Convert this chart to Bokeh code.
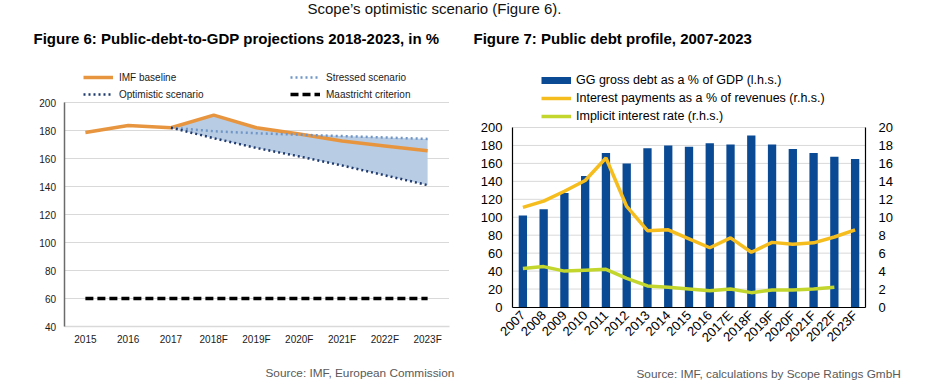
import math
from bokeh.plotting import figure
from bokeh.models import (Range1d, LinearAxis, Legend, LegendItem, Label, FixedTicker)
from bokeh.embed import file_html
from bokeh.resources import INLINE

FONT = "Liberation Sans"

# ---------------- Figure 6 data ----------------
f6_years = ["2015", "2016", "2017", "2018F", "2019F", "2020F", "2021F", "2022F", "2023F"]
imf_baseline = [178.5, 183.5, 182.0, 191.0, 182.0, 177.5, 172.5, 169.0, 165.5]
scen_years = ["2017", "2018F", "2019F", "2020F", "2021F", "2022F", "2023F"]
stressed = [182.0, 179.5, 178.0, 177.0, 176.0, 175.0, 174.0]
optimistic = [182.0, 174.5, 167.5, 161.5, 155.0, 148.0, 141.0]
maastricht = [60, 60, 60, 60, 60, 60, 60, 60, 60]
f6_ticks = [40, 60, 80, 100, 120, 140, 160, 180, 200]

# ---------------- Figure 7 data ----------------
f7_years = ["2007", "2008", "2009", "2010", "2011", "2012", "2013", "2014", "2015",
            "2016", "2017E", "2018F", "2019F", "2020F", "2021F", "2022F", "2023F"]
gg_debt = [102, 109, 127, 146, 171.5, 160, 177, 180, 178.5, 182.5, 181, 191, 181, 176,
           171.5, 167.5, 165]
interest_pay = [11.1, 11.8, 12.9, 14.1, 16.6, 11.2, 8.5, 8.6, 7.6, 6.6, 7.7, 6.1, 7.2,
                7.0, 7.15, 7.8, 8.6]
implicit_years = f7_years[:16]
implicit_rate = [4.3, 4.5, 4.0, 4.1, 4.2, 3.2, 2.35, 2.2, 2.0, 1.8, 2.0, 1.6, 1.9, 1.9,
                 2.0, 2.2]
f7_left_ticks = [0, 20, 40, 60, 80, 100, 120, 140, 160, 180, 200]
f7_right_ticks = [0, 2, 4, 6, 8, 10, 12, 14, 16, 18, 20]

# colours
ORANGE = "#E8953F"
STRESS = "#6F96C6"
OPTIM = "#1F3B6E"
FILL = "#B8CCE4"
NAVY = "#0A4A94"
GOLD = "#F6BD1F"
LIME = "#C3D62E"
GRID = "#D9D9D9"

# ---------------- canvas / pixel layout ----------------
W, H = 915, 385


def rng(v0, top0, v1, top1, length, vertical=False):
    """Range1d so that value v0 sits at pixel top0 and v1 at top1 (page pixels)."""
    if vertical:
        top0, top1 = length - top0, length - top1
    k = (top1 - top0) / (v1 - v0)
    start = v0 - top0 / k
    return Range1d(start, start + length / k)


def sy(y):
    return H - y


# positional indices for the categorical series
i6 = list(range(len(f6_years)))
i6s = [f6_years.index(y) for y in scen_years]
i7 = list(range(len(f7_years)))
i7i = [f7_years.index(y) for y in implicit_years]
e6 = (-0.5, len(f6_years) - 0.5)
e7 = (-0.5, len(f7_years) - 0.5)

p = figure(width=W, height=H, x_range=Range1d(0, W), y_range=Range1d(0, H),
           x_axis_location=None, y_axis_location=None, toolbar_location=None,
           output_backend="svg", min_border=0, title=None)
p.outline_line_color = None
p.grid.visible = False
p.extra_x_ranges = {
    "x6": rng(e6[0], 63.5, e6[1], 448.5, W),
    "x7": rng(e7[0], 512.0, e7[1], 865.0, W),
}
p.extra_y_ranges = {
    "y6": rng(40, 326.0, 200, 102.0, H, vertical=True),
    "y7": rng(0, 306.5, 200, 127.0, H, vertical=True),
    "y7r": rng(0, 306.5, 20, 127.0, H, vertical=True),
}

# ---------------- top sentence ----------------
p.add_layout(Label(x=307, y=sy(7.5), x_units="screen", y_units="screen",
                   text="Scope\u2019s optimistic scenario (Figure 6).",
                   text_font=FONT, text_font_size="15px", text_color="#111111",
                   text_baseline="middle"))

# ---------------- Figure 6 ----------------
k6 = dict(x_range_name="x6", y_range_name="y6")
p.segment(x0=e6[0], x1=e6[1], y0=f6_ticks[1:], y1=f6_ticks[1:], line_color=GRID,
          line_width=1, **k6)

upper = [max(imf_baseline[i], s) for i, s in zip(i6s, stressed)]
p.varea(x=i6s, y1=optimistic, y2=upper, fill_color=FILL, fill_alpha=1.0, **k6)
r_maas = p.line(x=i6, y=maastricht, line_color="black", line_width=3.5,
                line_dash="8 4", **k6)
r_base = p.line(x=i6, y=imf_baseline, line_color=ORANGE, line_width=3.5, **k6)
r_str = p.line(x=i6s, y=stressed, line_color=STRESS, line_width=2.5,
               line_dash="2 3", **k6)
r_opt = p.line(x=i6s, y=optimistic, line_color=OPTIM, line_width=2.5,
               line_dash="2 3", **k6)

ax6y = LinearAxis(ticker=FixedTicker(ticks=f6_ticks), fixed_location=e6[0],
                  bounds=(f6_ticks[0], f6_ticks[-1]), **k6)
ax6x = LinearAxis(ticker=FixedTicker(ticks=i6), fixed_location=f6_ticks[0],
                  bounds=e6, major_label_overrides={i: s for i, s in zip(i6, f6_years)},
                  **k6)
for ax in (ax6x, ax6y):
    ax.major_tick_out = 0
    ax.major_tick_in = 0
    ax.minor_tick_out = 0
    ax.minor_tick_in = 0
    ax.major_label_text_font = FONT
    ax.major_label_text_font_size = "10px"
    ax.major_label_text_color = "#1a1a1a"
ax6y.major_label_standoff = 8
ax6x.major_label_standoff = 7
ax6y.axis_line_color = "#6b6b6b"
ax6y.axis_line_width = 1.5
ax6x.axis_line_color = GRID
ax6x.axis_line_width = 1.5
p.add_layout(ax6y, "left")
p.add_layout(ax6x, "below")

leg_kw = dict(glyph_width=30, glyph_height=14, label_height=14, label_standoff=6,
              spacing=3, padding=0, margin=0, border_line_color=None,
              background_fill_alpha=0, label_text_font=FONT,
              label_text_font_size="10px", label_text_color="#1a1a1a")
p.add_layout(Legend(items=[LegendItem(label="IMF baseline", renderers=[r_base]),
                           LegendItem(label="Optimistic scenario", renderers=[r_opt])],
                    location=(83, sy(101)), **leg_kw))
p.add_layout(Legend(items=[LegendItem(label="Stressed scenario", renderers=[r_str]),
                           LegendItem(label="Maastricht criterion", renderers=[r_maas])],
                    location=(290, sy(101)), **leg_kw))

p.add_layout(Label(x=33, y=sy(38), x_units="screen", y_units="screen",
                   text="Figure 6: Public-debt-to-GDP projections 2018-2023, in %",
                   text_font=FONT, text_font_style="bold", text_font_size="15px",
                   text_color="black", text_baseline="middle"))
p.add_layout(Label(x=265, y=sy(372), x_units="screen", y_units="screen",
                   text="Source: IMF, European Commission",
                   text_font=FONT, text_font_size="11.8px", text_color="#595959",
                   text_baseline="middle"))

# ---------------- Figure 7 ----------------
k7 = dict(x_range_name="x7", y_range_name="y7")
k7r = dict(x_range_name="x7", y_range_name="y7r")
p.segment(x0=e7[0], x1=e7[1], y0=f7_left_ticks[1:], y1=f7_left_ticks[1:],
          line_color=GRID, line_width=1, **k7)
p.vbar(x=i7, top=gg_debt, width=0.4, fill_color=NAVY, line_color=None, **k7)
r_int = p.line(x=i7, y=interest_pay, line_color=GOLD, line_width=3.5, **k7r)
r_imp = p.line(x=i7i, y=implicit_rate, line_color=LIME, line_width=3.5, **k7r)
# legend key for the bars (a thick swatch, like the source's legend); draws nothing
r_barkey = p.line(x=[i7[0]], y=[float("nan")], line_color=NAVY, line_width=7, **k7)

ax7l = LinearAxis(ticker=FixedTicker(ticks=f7_left_ticks), fixed_location=e7[0],
                  bounds=(f7_left_ticks[0], f7_left_ticks[-1]), **k7)
ax7r = LinearAxis(ticker=FixedTicker(ticks=f7_right_ticks), fixed_location=e7[1],
                  bounds=(f7_right_ticks[0], f7_right_ticks[-1]), **k7r)
ax7x = LinearAxis(ticker=FixedTicker(ticks=i7), fixed_location=f7_left_ticks[0],
                  bounds=e7, major_label_overrides={i: s for i, s in zip(i7, f7_years)},
                  **k7)
for ax in (ax7l, ax7r, ax7x):
    ax.major_tick_out = 0
    ax.major_tick_in = 0
    ax.minor_tick_out = 0
    ax.minor_tick_in = 0
    ax.major_label_text_font = FONT
    ax.major_label_text_font_size = "13px"
    ax.major_label_text_color = "black"
    ax.axis_line_color = "black"
    ax.axis_line_width = 1.2
ax7l.major_label_standoff = 10
ax7r.major_label_standoff = 13
ax7x.major_label_standoff = 6
ax7x.major_label_orientation = math.pi / 4
p.add_layout(ax7l, "left")
p.add_layout(ax7r, "right")
p.add_layout(ax7x, "below")

p.add_layout(Legend(items=[LegendItem(label="GG gross debt as a % of GDP (l.h.s.)", renderers=[r_barkey]),
                           LegendItem(label="Interest payments as a % of revenues (r.h.s.)", renderers=[r_int]),
                           LegendItem(label="Implicit interest rate (r.h.s.)", renderers=[r_imp])],
                    location=(541, sy(124)), glyph_width=30, glyph_height=16, label_height=16,
                    label_standoff=5, spacing=2, padding=0, margin=0,
                    border_line_color=None, background_fill_alpha=0, label_text_font=FONT,
                    label_text_font_size="12.5px", label_text_color="black"))

p.add_layout(Label(x=473, y=sy(38), x_units="screen", y_units="screen",
                   text="Figure 7: Public debt profile, 2007-2023",
                   text_font=FONT, text_font_style="bold", text_font_size="15px",
                   text_color="black", text_baseline="middle"))
p.add_layout(Label(x=636, y=sy(373), x_units="screen", y_units="screen",
                   text="Source: IMF, calculations by Scope Ratings GmbH",
                   text_font=FONT, text_font_size="11.8px", text_color="#595959",
                   text_baseline="middle"))

open("out.html", "w").write(file_html(p, INLINE))
